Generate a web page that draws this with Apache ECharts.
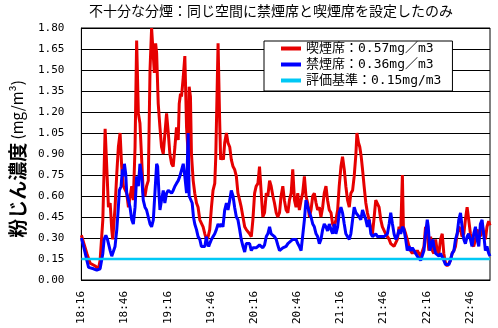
<!DOCTYPE html>
<html><head><meta charset="utf-8">
<script src="https://cdn.jsdelivr.net/npm/echarts@6/dist/echarts.min.js"></script>
<style>html,body{margin:0;padding:0;background:#fff}#c{width:498px;height:328px}</style>
</head><body><div id="c"></div>
<script>
// minutes since 18:16
const tickLabels = ['18:16','18:46','19:16','19:46','20:16','20:46','21:16','21:46','22:16','22:46'];
const yTicks = [0,0.15,0.30,0.45,0.60,0.75,0.90,1.05,1.20,1.35,1.50,1.65,1.80];

const redT = [0,3.8,6.1,9.6,11.9,13.0,14.9,16.5,17.7,18.8,20.0,21.1,21.8,23.4,24.6,25.7,26.9,28.0,29.2,31.5,32.7,33.8,35.0,36.1,37.3,38.4,39.6,40.7,41.9,43.0,44.2,45.3,46.5,47.7,48.8,50.0,50.7,51.6,52.3,53.4,54.6,55.7,56.9,58.0,59.2,60.4,61.5,62.7,63.8,65.0,66.1,67.3,68.0,68.9,
69.6,70.8,71.9,73.1,74.2,74.9,75.8,76.5,77.7,78.8,80.0,81.1,82.3,83.4,84.6,85.8,86.9,88.1,89.2,90.4,91.5,92.7,93.4,94.3,95.0,96.1,96.8,97.8,98.7,99.6,100.8,101.9,103.1,104.2,105.4,106.5,107.7,108.8,110.0,111.1,112.3,113.5,114.6,115.8,116.9,118.1,119.2,120.4,121.5,122.7,123.8,125.0,126.1,127.3,128.5,129.6,130.8,131.9,133.1,134.2,135.4,136.5,137.7,138.8,140.0,141.1,
142.3,143.5,144.6,145.8,146.9,148.1,149.2,150.4,151.5,152.7,153.8,155.0,156.1,157.3,158.5,159.6,160.8,161.9,163.1,164.2,165.4,166.5,167.7,168.8,170.0,171.1,172.3,173.5,174.6,175.8,176.9,178.1,179.2,180.4,181.5,182.7,183.8,185.0,186.2,187.3,188.5,189.6,190.8,191.5,192.6,193.5,194.5,195.4,196.5,197.7,198.8,200.0,201.2,202.3,203.5,204.6,205.8,206.9,208.1,209.2,210.4,211.5,212.7,213.9,215.0,
217.3,219.6,220.8,221.9,223.1,223.8,225.4,226.5,227.7,228.8,230.0,231.2,232.3,233.5,234.6,235.8,238.1,239.2,240.4,241.5,242.7,243.9,245.0,246.2,247.3,248.5,249.6,250.8,251.9,253.1,254.2,255.4,256.5,257.7,258.9,260.0,261.2,262.3,263.5,264.6,265.8,266.9,268.1,269.2,270.4,271.5,272.7,273.9,275.0,276.2,277.3,278.5,279.6,280.8,281.9,283.1,284];
const redV = [0.32,0.19,0.12,0.10,0.08,0.14,0.43,1.08,0.79,0.52,0.55,0.36,0.29,0.52,0.76,0.95,1.05,0.81,0.67,0.62,0.52,0.51,0.67,0.57,0.95,1.71,1.19,1.12,0.86,0.62,0.60,0.67,0.71,1.50,1.80,1.79,1.48,1.69,1.62,1.26,1.09,0.95,0.90,0.90,1.19,1.05,0.90,0.83,0.81,0.95,1.09,1.00,1.26,1.33,
1.31,1.45,1.60,1.09,0.90,1.38,1.31,0.90,0.71,0.62,0.55,0.52,0.43,0.43,0.38,0.33,0.29,0.31,0.36,0.52,0.64,0.69,0.88,0.88,1.69,1.14,0.86,0.88,0.86,0.98,1.05,0.98,0.95,0.86,0.81,0.79,0.74,0.62,0.57,0.52,0.45,0.38,0.36,0.36,0.33,0.31,0.43,0.62,0.67,0.69,0.81,0.62,0.45,0.48,0.62,0.60,0.71,0.67,0.60,0.55,0.48,0.45,0.48,0.60,0.67,0.57,
0.50,0.48,0.57,0.62,0.79,0.57,0.52,0.62,0.50,0.57,0.62,0.74,0.60,0.55,0.45,0.50,0.60,0.62,0.55,0.50,0.52,0.45,0.52,0.62,0.67,0.57,0.50,0.48,0.40,0.38,0.43,0.50,0.67,0.81,0.88,0.79,0.67,0.57,0.52,0.62,0.64,0.74,0.90,1.05,0.98,0.95,0.88,0.79,0.67,0.55,0.48,0.43,0.36,0.33,0.45,0.57,0.58,0.52,0.43,0.38,0.37,0.33,0.31,0.29,0.26,
0.24,0.29,0.38,0.33,0.75,0.38,0.33,0.29,0.24,0.21,0.19,0.21,0.19,0.21,0.19,0.17,0.24,0.38,0.33,0.21,0.31,0.21,0.19,0.29,0.21,0.19,0.29,0.33,0.19,0.12,0.10,0.12,0.14,0.19,0.21,0.24,0.33,0.38,0.36,0.31,0.33,0.43,0.52,0.43,0.33,0.26,0.24,0.29,0.36,0.33,0.31,0.40,0.33,0.29,0.38,0.42,0.39];

const blueT = [0,1.5,2.7,3.8,5.0,6.1,8.4,10.7,13.0,14.2,14.9,15.8,17.0,18.1,19.3,20.0,21.1,22.3,23.4,24.6,25.7,26.4,27.6,28.5,29.2,29.9,30.8,31.5,32.7,33.8,35.0,36.1,37.3,38.4,39.6,40.7,41.9,43.0,44.2,45.3,46.5,47.7,48.8,50.0,51.1,52.3,53.0,53.9,54.6,55.7,56.9,58.0,59.2,60.4,61.5,62.7,63.8,65.0,66.1,67.3,68.4,
69.6,70.8,71.9,73.1,74.2,74.9,76.1,77.0,77.9,78.8,80.0,81.1,82.3,83.4,84.6,85.8,86.9,87.6,88.5,89.2,90.4,91.5,92.7,93.8,95.0,96.1,97.3,98.4,99.6,100.8,101.9,103.1,104.2,105.4,106.5,107.7,108.8,110.0,111.1,112.3,113.5,114.6,115.8,116.9,118.1,119.2,120.4,121.5,122.7,123.8,125.0,126.1,127.3,128.5,129.6,130.8,131.9,133.1,134.2,135.4,136.5,137.7,138.8,140.0,141.1,
142.3,143.5,144.6,146.9,148.1,149.2,150.4,151.5,152.7,153.8,155.0,156.1,157.3,158.5,159.6,160.8,161.9,163.1,164.2,165.4,166.5,167.7,168.8,170.0,171.1,172.3,173.5,174.6,175.8,176.9,178.1,179.2,180.4,181.5,182.7,183.8,185.0,186.2,187.3,188.5,189.6,190.8,191.9,193.1,194.2,195.4,196.5,197.7,198.8,200.0,201.2,202.3,203.5,204.6,205.8,206.9,208.1,209.2,210.4,211.5,212.7,213.9,
215.0,216.2,217.3,218.5,219.6,220.8,221.9,223.1,224.2,225.4,226.5,227.7,228.8,230.0,231.2,232.3,233.5,234.6,235.8,236.9,238.1,239.2,240.4,241.1,242.2,243.4,244.3,245.0,246.2,247.3,248.5,249.6,250.8,251.9,253.1,254.2,255.4,256.5,257.7,258.9,260.0,261.2,262.3,263.5,264.6,265.8,266.9,268.1,269.2,270.4,271.5,272.7,273.9,275.0,276.2,277.3,278.5,279.6,280.8,281.9,283.1,284];
const blueV = [0.30,0.24,0.19,0.14,0.09,0.08,0.08,0.07,0.08,0.09,0.19,0.29,0.32,0.29,0.24,0.21,0.17,0.16,0.24,0.36,0.52,0.64,0.67,0.79,0.74,0.83,0.76,0.62,0.57,0.52,0.43,0.40,0.52,0.74,0.67,0.83,0.74,0.57,0.52,0.50,0.45,0.40,0.38,0.43,0.62,0.83,0.81,0.62,0.50,0.57,0.64,0.55,0.62,0.64,0.63,0.62,0.64,0.67,0.69,0.71,0.74,
0.74,0.83,0.74,0.62,1.05,0.60,0.60,0.55,0.45,0.40,0.36,0.31,0.29,0.24,0.23,0.24,0.31,0.26,0.24,0.26,0.29,0.31,0.33,0.36,0.40,0.38,0.40,0.38,0.50,0.55,0.50,0.57,0.64,0.60,0.52,0.45,0.43,0.36,0.29,0.24,0.20,0.26,0.27,0.26,0.21,0.23,0.24,0.23,0.24,0.25,0.24,0.23,0.25,0.31,0.33,0.38,0.33,0.32,0.31,0.29,0.25,0.21,0.21,0.23,0.24,
0.24,0.26,0.27,0.29,0.30,0.29,0.26,0.24,0.21,0.21,0.43,0.57,0.58,0.48,0.45,0.40,0.38,0.33,0.31,0.26,0.29,0.36,0.40,0.38,0.35,0.40,0.36,0.33,0.40,0.33,0.38,0.48,0.52,0.48,0.40,0.33,0.31,0.29,0.33,0.43,0.52,0.48,0.49,0.45,0.43,0.50,0.51,0.43,0.38,0.43,0.33,0.31,0.31,0.33,0.31,0.30,0.31,0.30,0.31,0.30,0.33,0.40,
0.48,0.40,0.33,0.29,0.31,0.36,0.33,0.38,0.36,0.29,0.21,0.24,0.21,0.23,0.21,0.19,0.17,0.18,0.14,0.15,0.21,0.33,0.43,0.38,0.21,0.21,0.29,0.24,0.19,0.18,0.17,0.19,0.18,0.14,0.11,0.10,0.11,0.14,0.19,0.21,0.29,0.33,0.43,0.48,0.38,0.29,0.26,0.31,0.33,0.29,0.24,0.33,0.38,0.29,0.24,0.40,0.43,0.33,0.21,0.24,0.19,0.17];

const stdT = [0, 284];
const stdV = [0.15, 0.15];

const names = ['喫煙席：0.57mg／m3', '禁煙席：0.36mg／m3', '評価基準：0.15mg/m3'];
const pair = (t, v) => t.map((x, i) => [x, v[i]]);

const mono = '"DejaVu Sans Mono","Noto Sans CJK JP"';
const chart = echarts.init(document.getElementById('c'));
chart.setOption({
  animation: false,
  backgroundColor: '#fff',
  title: {
    text: '不十分な分煙：同じ空間に禁煙席と喫煙席を設定したのみ',
    left: 89, top: 0, padding: [4, 0, 0, 0],
    textStyle: { fontSize: 14, fontWeight: 'normal', color: '#000', fontFamily: '"Noto Sans CJK JP"' }
  },
  legend: {
    orient: 'vertical', left: 264, top: 41,
    backgroundColor: '#fff', borderColor: '#000', borderWidth: 1,
    padding: [0, 11, 3, 17], itemGap: 1,
    icon: 'rect', itemWidth: 20, itemHeight: 4,
    textStyle: { fontSize: 13, color: '#000', fontFamily: mono, lineHeight: 15 },
    data: names
  },
  grid: { left: 79, right: 8, top: 28, bottom: 48, show: true, borderColor: '#000', borderWidth: 1 },
  xAxis: {
    type: 'value', min: 0, max: 284, interval: 30,
    axisLine: { show: true, lineStyle: { color: '#000', width: 1 } },
    axisTick: { show: false },
    splitLine: { show: false },
    axisLabel: {
      rotate: 90, margin: 11, fontSize: 11, color: '#000', fontFamily: mono,
      showMaxLabel: false,
      formatter: v => (v % 30 === 0 && v / 30 < tickLabels.length) ? tickLabels[v / 30] : ''
    }
  },
  yAxis: {
    type: 'value', min: 0, max: 1.8, interval: 0.15,
    axisLine: { show: true, lineStyle: { color: '#000', width: 1 } },
    axisTick: { show: false },
    splitLine: { show: true, lineStyle: { color: '#000', width: 1 } },
    axisLabel: { margin: 17, fontSize: 11, color: '#000', fontFamily: mono, formatter: v => v.toFixed(2) },
    name: '{a|粉じん濃度} {b|(mg/m³)}',
    nameLocation: 'middle', nameGap: 54,
    nameTextStyle: {
      padding: [0, 10, 0, 0],
      rich: {
        a: { fontSize: 19, fontWeight: 'bold', color: '#000', fontFamily: '"Noto Sans CJK JP"' },
        b: { fontSize: 15, color: '#000', fontFamily: '"Noto Sans CJK JP"' }
      }
    }
  },
  series: [
    { name: names[0], type: 'line', data: pair(redT, redV), showSymbol: false, lineStyle: { color: '#E60000', width: 3 }, itemStyle: { color: '#E60000' } },
    { name: names[1], type: 'line', data: pair(blueT, blueV), showSymbol: false, lineStyle: { color: '#0000FF', width: 3 }, itemStyle: { color: '#0000FF' } },
    { name: names[2], type: 'line', data: pair(stdT, stdV), showSymbol: false, lineStyle: { color: '#00C8F5', width: 2.5 }, itemStyle: { color: '#00C8F5' } }
  ]
});
</script></body></html>
